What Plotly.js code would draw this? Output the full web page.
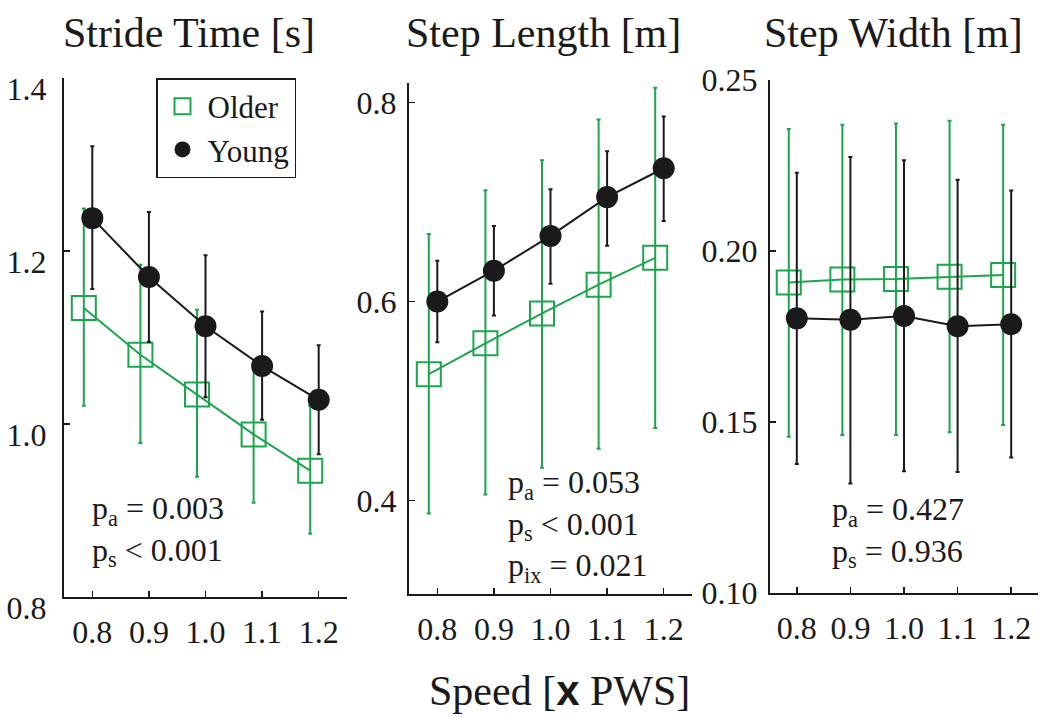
<!DOCTYPE html>
<html>
<head>
<meta charset="utf-8">
<script src="https://cdn.plot.ly/plotly-3.0.1.min.js"></script>
<style>html,body{margin:0;padding:0;background:#fff;}#chart{width:1050px;height:717px;}</style>
</head>
<body>
<div id="chart"></div>
<script>
// ---- Data ----
const speeds = [0.8, 0.9, 1.0, 1.1, 1.2];
const xTickLabels = ['0.8', '0.9', '1.0', '1.1', '1.2'];

// Stride Time [s]
const strideYoungMean  = [1.238, 1.170, 1.113, 1.067, 1.028];
const strideYoungUpper = [1.321, 1.245, 1.195, 1.130, 1.091];
const strideYoungLower = [1.156, 1.095, 1.031, 1.005, 0.965];
const strideOlderMean  = [1.134, 1.080, 1.034, 0.988, 0.946];
const strideOlderUpper = [1.249, 1.184, 1.132, 1.067, 1.021];
const strideOlderLower = [1.021, 0.978, 0.939, 0.909, 0.873];

// Step Length [m]
const lengthYoungMean  = [0.600, 0.631, 0.666, 0.705, 0.734];
const lengthYoungUpper = [0.641, 0.676, 0.713, 0.751, 0.786];
const lengthYoungLower = [0.559, 0.586, 0.618, 0.656, 0.681];
const lengthOlderMean  = [0.527, 0.558, 0.588, 0.617, 0.644];
const lengthOlderUpper = [0.668, 0.712, 0.742, 0.783, 0.815];
const lengthOlderLower = [0.387, 0.406, 0.433, 0.452, 0.473];

// Step Width [m]
const widthYoungMean  = [0.1803, 0.1799, 0.1810, 0.1780, 0.1786];
const widthYoungUpper = [0.2229, 0.2275, 0.2265, 0.2208, 0.2177];
const widthYoungLower = [0.1377, 0.1320, 0.1356, 0.1354, 0.1396];
const widthOlderMean  = [0.1908, 0.1917, 0.1918, 0.1925, 0.1930];
const widthOlderUpper = [0.2357, 0.2369, 0.2373, 0.2381, 0.2369];
const widthOlderLower = [0.1457, 0.1462, 0.1462, 0.1470, 0.1491];

const panelTitles = ['Stride Time [s]', 'Step Length [m]', 'Step Width [m]'];
const statTexts = [
  'p<sub>a</sub> = 0.003<br>p<sub>s</sub> &lt; 0.001',
  'p<sub>a</sub> = 0.053<br>p<sub>s</sub> &lt; 0.001<br>p<sub>ix</sub> = 0.021',
  'p<sub>a</sub> = 0.427<br>p<sub>s</sub> = 0.936'
];
const groupNames = ['Older', 'Young'];

// ---- Styling ----
const W = 1050, H = 717;
const FONT = '"Liberation Serif", "Times New Roman", Times, serif';
const GREEN = '#1aa64b';
const BLACK = '#1a1a1a';
const olderOffset = 0.015;
const olderX = speeds.map(s => s - olderOffset);

function px(x) { return x / W; }
function py(y) { return 1 - y / H; }

function diff(a, b) { return a.map((v, i) => v - b[i]); }

function olderTrace(mean, upper, lower, xa, ya) {
  return {
    type: 'scatter', mode: 'lines+markers', x: olderX, y: mean,
    xaxis: xa, yaxis: ya, showlegend: false, hoverinfo: 'skip',
    line: {color: GREEN, width: 2},
    marker: {symbol: 'square-open', size: 24, color: GREEN, line: {width: 2, color: GREEN}},
    error_y: {type: 'data', symmetric: false, array: diff(upper, mean), arrayminus: diff(mean, lower),
              color: GREEN, thickness: 2, width: 2}
  };
}
function youngTrace(mean, upper, lower, xa, ya) {
  return {
    type: 'scatter', mode: 'lines+markers', x: speeds, y: mean,
    xaxis: xa, yaxis: ya, showlegend: false, hoverinfo: 'skip',
    line: {color: BLACK, width: 2},
    marker: {symbol: 'circle', size: 22, color: BLACK},
    error_y: {type: 'data', symmetric: false, array: diff(upper, mean), arrayminus: diff(mean, lower),
              color: BLACK, thickness: 2, width: 2}
  };
}

const data = [
  olderTrace(strideOlderMean, strideOlderUpper, strideOlderLower, 'x', 'y'),
  youngTrace(strideYoungMean, strideYoungUpper, strideYoungLower, 'x', 'y'),
  olderTrace(lengthOlderMean, lengthOlderUpper, lengthOlderLower, 'x2', 'y2'),
  youngTrace(lengthYoungMean, lengthYoungUpper, lengthYoungLower, 'x2', 'y2'),
  olderTrace(widthOlderMean, widthOlderUpper, widthOlderLower, 'x3', 'y3'),
  youngTrace(widthYoungMean, widthYoungUpper, widthYoungLower, 'x3', 'y3'),
  // legend entries
  {type: 'scatter', mode: 'markers', x: [null], y: [null], xaxis: 'x', yaxis: 'y', name: groupNames[0],
   marker: {symbol: 'square-open', size: 24, color: GREEN, line: {width: 2, color: GREEN}}},
  {type: 'scatter', mode: 'markers', x: [null], y: [null], xaxis: 'x', yaxis: 'y', name: groupNames[1],
   marker: {symbol: 'circle', size: 22, color: BLACK}}
];

function xAxis(domain, anchor) {
  return {
    domain: domain, anchor: anchor, range: [0.75, 1.25],
    tickmode: 'array', tickvals: speeds, ticktext: xTickLabels,
    ticks: 'inside', ticklen: 6, tickwidth: 1.5, tickcolor: BLACK,
    showline: true, linecolor: BLACK, linewidth: 2,
    showgrid: false, zeroline: false, fixedrange: true,
    tickfont: {family: FONT, size: 32, color: BLACK},
    ticklabelstandoff: 6
  };
}
function yAxis(domain, anchor, range, tickvals, fmt, standoff, shift) {
  return {
    domain: domain, anchor: anchor, range: range,
    tickmode: 'array', tickvals: tickvals, ticktext: tickvals.map(v => v.toFixed(fmt)),
    ticks: 'inside', ticklen: 6, tickwidth: 1.5, tickcolor: BLACK,
    showline: true, linecolor: BLACK, linewidth: 2,
    showgrid: false, zeroline: false, fixedrange: true,
    tickfont: {family: FONT, size: 32, color: BLACK},
    ticklabelstandoff: standoff, ticklabelshift: shift
  };
}

const layout = {
  width: W, height: H,
  margin: {l: 0, r: 0, t: 0, b: 0},
  paper_bgcolor: '#fff', plot_bgcolor: 'rgba(0,0,0,0)',
  font: {family: FONT, color: BLACK},
  showlegend: true,
  legend: {
    x: px(156), y: py(78), xanchor: 'left', yanchor: 'top',
    bgcolor: '#fff', bordercolor: BLACK, borderwidth: 1.5,
    font: {family: FONT, size: 31, color: BLACK},
    itemwidth: 40, tracegroupgap: 0,
    entrywidthmode: 'pixels', entrywidth: 130
  },
  xaxis: xAxis([px(64), px(347)], 'y'),
  yaxis: yAxis([py(597), py(78)], 'x', [0.8, 1.4], [0.8, 1.0, 1.2, 1.4], 1, 9, 11),
  xaxis2: xAxis([px(409), px(692)], 'y2'),
  yaxis2: yAxis([py(594), py(82.7)], 'x2', [0.306, 0.82], [0.4, 0.6, 0.8], 1, 4, 0),
  xaxis3: xAxis([px(770), px(1038)], 'y3'),
  yaxis3: yAxis([py(593), py(80)], 'x3', [0.10, 0.25], [0.10, 0.15, 0.20, 0.25], 2, 4, 0),
  annotations: [
    {text: panelTitles[0], xref: 'paper', yref: 'paper', x: px(189), y: py(33), xanchor: 'center', yanchor: 'middle', showarrow: false, font: {family: FONT, size: 42, color: BLACK}},
    {text: panelTitles[1], xref: 'paper', yref: 'paper', x: px(543), y: py(33), xanchor: 'center', yanchor: 'middle', showarrow: false, font: {family: FONT, size: 42, color: BLACK}},
    {text: panelTitles[2], xref: 'paper', yref: 'paper', x: px(893), y: py(33), xanchor: 'center', yanchor: 'middle', showarrow: false, font: {family: FONT, size: 42, color: BLACK}},
    {text: 'Speed [<span style="font-family:Liberation Sans, Arial, sans-serif;font-weight:bold">x</span> PWS]', xref: 'paper', yref: 'paper', x: px(559), y: py(690), xanchor: 'center', yanchor: 'middle', showarrow: false, font: {family: FONT, size: 42, color: BLACK}},
    {text: statTexts[0], xref: 'paper', yref: 'paper', x: px(90), y: py(531), xanchor: 'left', yanchor: 'middle', align: 'left', showarrow: false, font: {family: FONT, size: 32, color: BLACK}},
    {text: statTexts[1], xref: 'paper', yref: 'paper', x: px(506), y: py(526), xanchor: 'left', yanchor: 'middle', align: 'left', showarrow: false, font: {family: FONT, size: 32, color: BLACK}},
    {text: statTexts[2], xref: 'paper', yref: 'paper', x: px(830), y: py(532), xanchor: 'left', yanchor: 'middle', align: 'left', showarrow: false, font: {family: FONT, size: 32, color: BLACK}}
  ]
};

Plotly.newPlot('chart', data, layout, {displayModeBar: false, staticPlot: true});
</script>
</body>
</html>
